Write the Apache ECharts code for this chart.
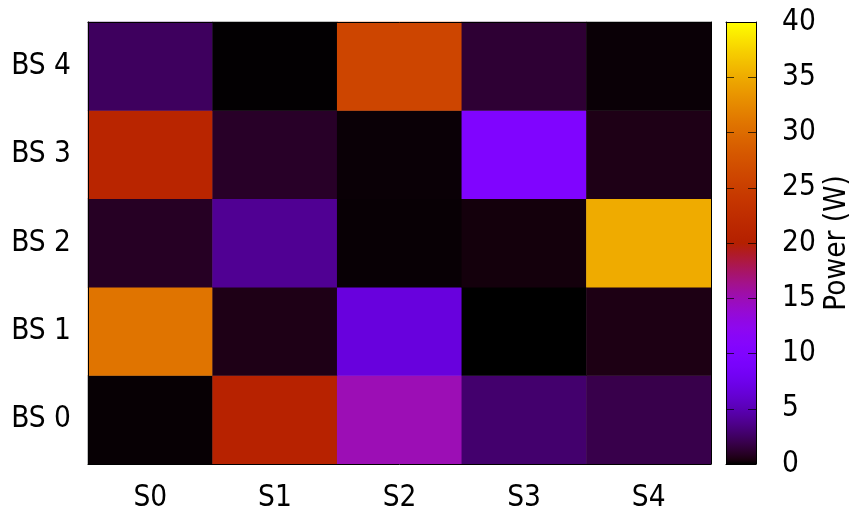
<!DOCTYPE html>
<html>
<head>
<meta charset="utf-8">
<script src="https://cdn.jsdelivr.net/npm/echarts@6/dist/echarts.min.js"></script>
<style>html,body{margin:0;padding:0;background:#fff;}#c{width:853px;height:516px;}</style>
</head>
<body>
<div id="c"></div>
<script>
var xCategories = ['S0', 'S1', 'S2', 'S3', 'S4'];
var yCategories = ['BS 0', 'BS 1', 'BS 2', 'BS 3', 'BS 4'];
var bs0 = [0.1, 20.5, 15.0, 2.8, 1.9];
var bs1 = [30.8, 0.55, 6.7, 0.0, 0.5];
var bs2 = [0.9, 3.9, 0.12, 0.3, 35.0];
var bs3 = [21.0, 1.0, 0.16, 10.0, 0.55];
var bs4 = [2.4, 0.05, 25.8, 1.3, 0.16];
var cbMin = 0, cbMax = 40, cbStep = 5;
var cbTitle = 'Power (W)';

var rows = [bs0, bs1, bs2, bs3, bs4];
var data = [];
rows.forEach(function (row, yi) {
  row.forEach(function (v, xi) { data.push([xi, yi, v]); });
});

// gnuplot default palette (rgbformulae 7,5,15)
function pal(t) {
  var r = Math.sqrt(t), g = t * t * t, b = Math.max(0, Math.sin(2 * Math.PI * t));
  function h(v) { v = Math.round(Math.min(1, Math.max(0, v)) * 255); return (v < 16 ? '0' : '') + v.toString(16); }
  return '#' + h(r) + h(g) + h(b);
}
var N = 100, stops = [], cols = [];
for (var i = 0; i <= N; i++) {
  cols.push(pal(i / N));
  stops.push({ offset: i / N, color: pal(i / N) });
}

var FONT = '"DejaVu Sans Condensed", "DejaVu Sans", sans-serif';
var FS = 29.5;

var chart = echarts.init(document.getElementById('c'));
chart.setOption({
  animation: false,
  backgroundColor: '#fff',
  grid: [
    { left: 88, top: 22, width: 623, height: 442 },
    { left: 726, top: 22, width: 32, height: 442, show: true, borderWidth: 0,
      backgroundColor: { type: 'linear', x: 0, y: 1, x2: 0, y2: 0, colorStops: stops } }
  ],
  xAxis: [
    { type: 'category', data: xCategories, gridIndex: 0, position: 'bottom', z: 10,
      axisLine: { show: true, lineStyle: { color: '#000', width: 1 } },
      axisTick: { show: false }, splitLine: { show: false },
      axisLabel: { color: '#000', fontSize: FS, fontFamily: FONT, margin: 19 } },
    { type: 'category', data: xCategories, gridIndex: 0, position: 'top', z: 10,
      axisLine: { show: true, lineStyle: { color: '#000', width: 1 } },
      axisTick: { show: false }, axisLabel: { show: false }, splitLine: { show: false } },
    { type: 'value', gridIndex: 1, min: 0, max: 1, position: 'bottom', z: 10,
      axisLine: { show: true, onZero: false, lineStyle: { color: '#000', width: 1 } },
      axisTick: { show: false }, axisLabel: { show: false }, splitLine: { show: false } },
    { type: 'value', gridIndex: 1, min: 0, max: 1, position: 'top', z: 10,
      axisLine: { show: true, onZero: false, lineStyle: { color: '#000', width: 1 } },
      axisTick: { show: false }, axisLabel: { show: false }, splitLine: { show: false } }
  ],
  yAxis: [
    { type: 'category', data: yCategories, gridIndex: 0, position: 'left', z: 10,
      axisLine: { show: true, lineStyle: { color: '#000', width: 1 } },
      axisTick: { show: false }, splitLine: { show: false },
      axisLabel: { color: '#000', fontSize: FS, fontFamily: FONT, margin: 17, padding: [5, 0, 0, 0] } },
    { type: 'category', data: yCategories, gridIndex: 0, position: 'right', z: 10,
      axisLine: { show: true, lineStyle: { color: '#000', width: 1 } },
      axisTick: { show: false }, axisLabel: { show: false }, splitLine: { show: false } },
    { type: 'value', gridIndex: 1, min: cbMin, max: cbMax, interval: cbStep, position: 'left', z: 10,
      axisLine: { show: true, onZero: false, lineStyle: { color: '#000', width: 1 } },
      axisTick: { show: true, inside: true, length: 8, lineStyle: { color: '#000', width: 1, opacity: 0.7 } },
      axisLabel: { show: false }, splitLine: { show: false } },
    { type: 'value', gridIndex: 1, min: cbMin, max: cbMax, interval: cbStep, position: 'right', z: 10,
      axisLine: { show: true, onZero: false, lineStyle: { color: '#000', width: 1 } },
      axisTick: { show: true, inside: true, length: 8, lineStyle: { color: '#000', width: 1, opacity: 0.7 } },
      axisLabel: { color: '#000', fontSize: FS, fontFamily: FONT, margin: 26, padding: [6, 0, 0, 0] },
      splitLine: { show: false },
      name: cbTitle, nameLocation: 'middle', nameRotate: 90, nameGap: 66,
      nameTextStyle: { color: '#000', fontSize: FS, fontFamily: FONT } }
  ],
  visualMap: {
    show: false, type: 'continuous', min: cbMin, max: cbMax, seriesIndex: 0,
    inRange: { color: cols }
  },
  series: [
    { type: 'heatmap', xAxisIndex: 0, yAxisIndex: 0, data: data,
      itemStyle: { borderWidth: 0 }, emphasis: { disabled: true } },
    { type: 'scatter', xAxisIndex: 2, yAxisIndex: 2, data: [] }
  ]
});
</script>
</body>
</html>
